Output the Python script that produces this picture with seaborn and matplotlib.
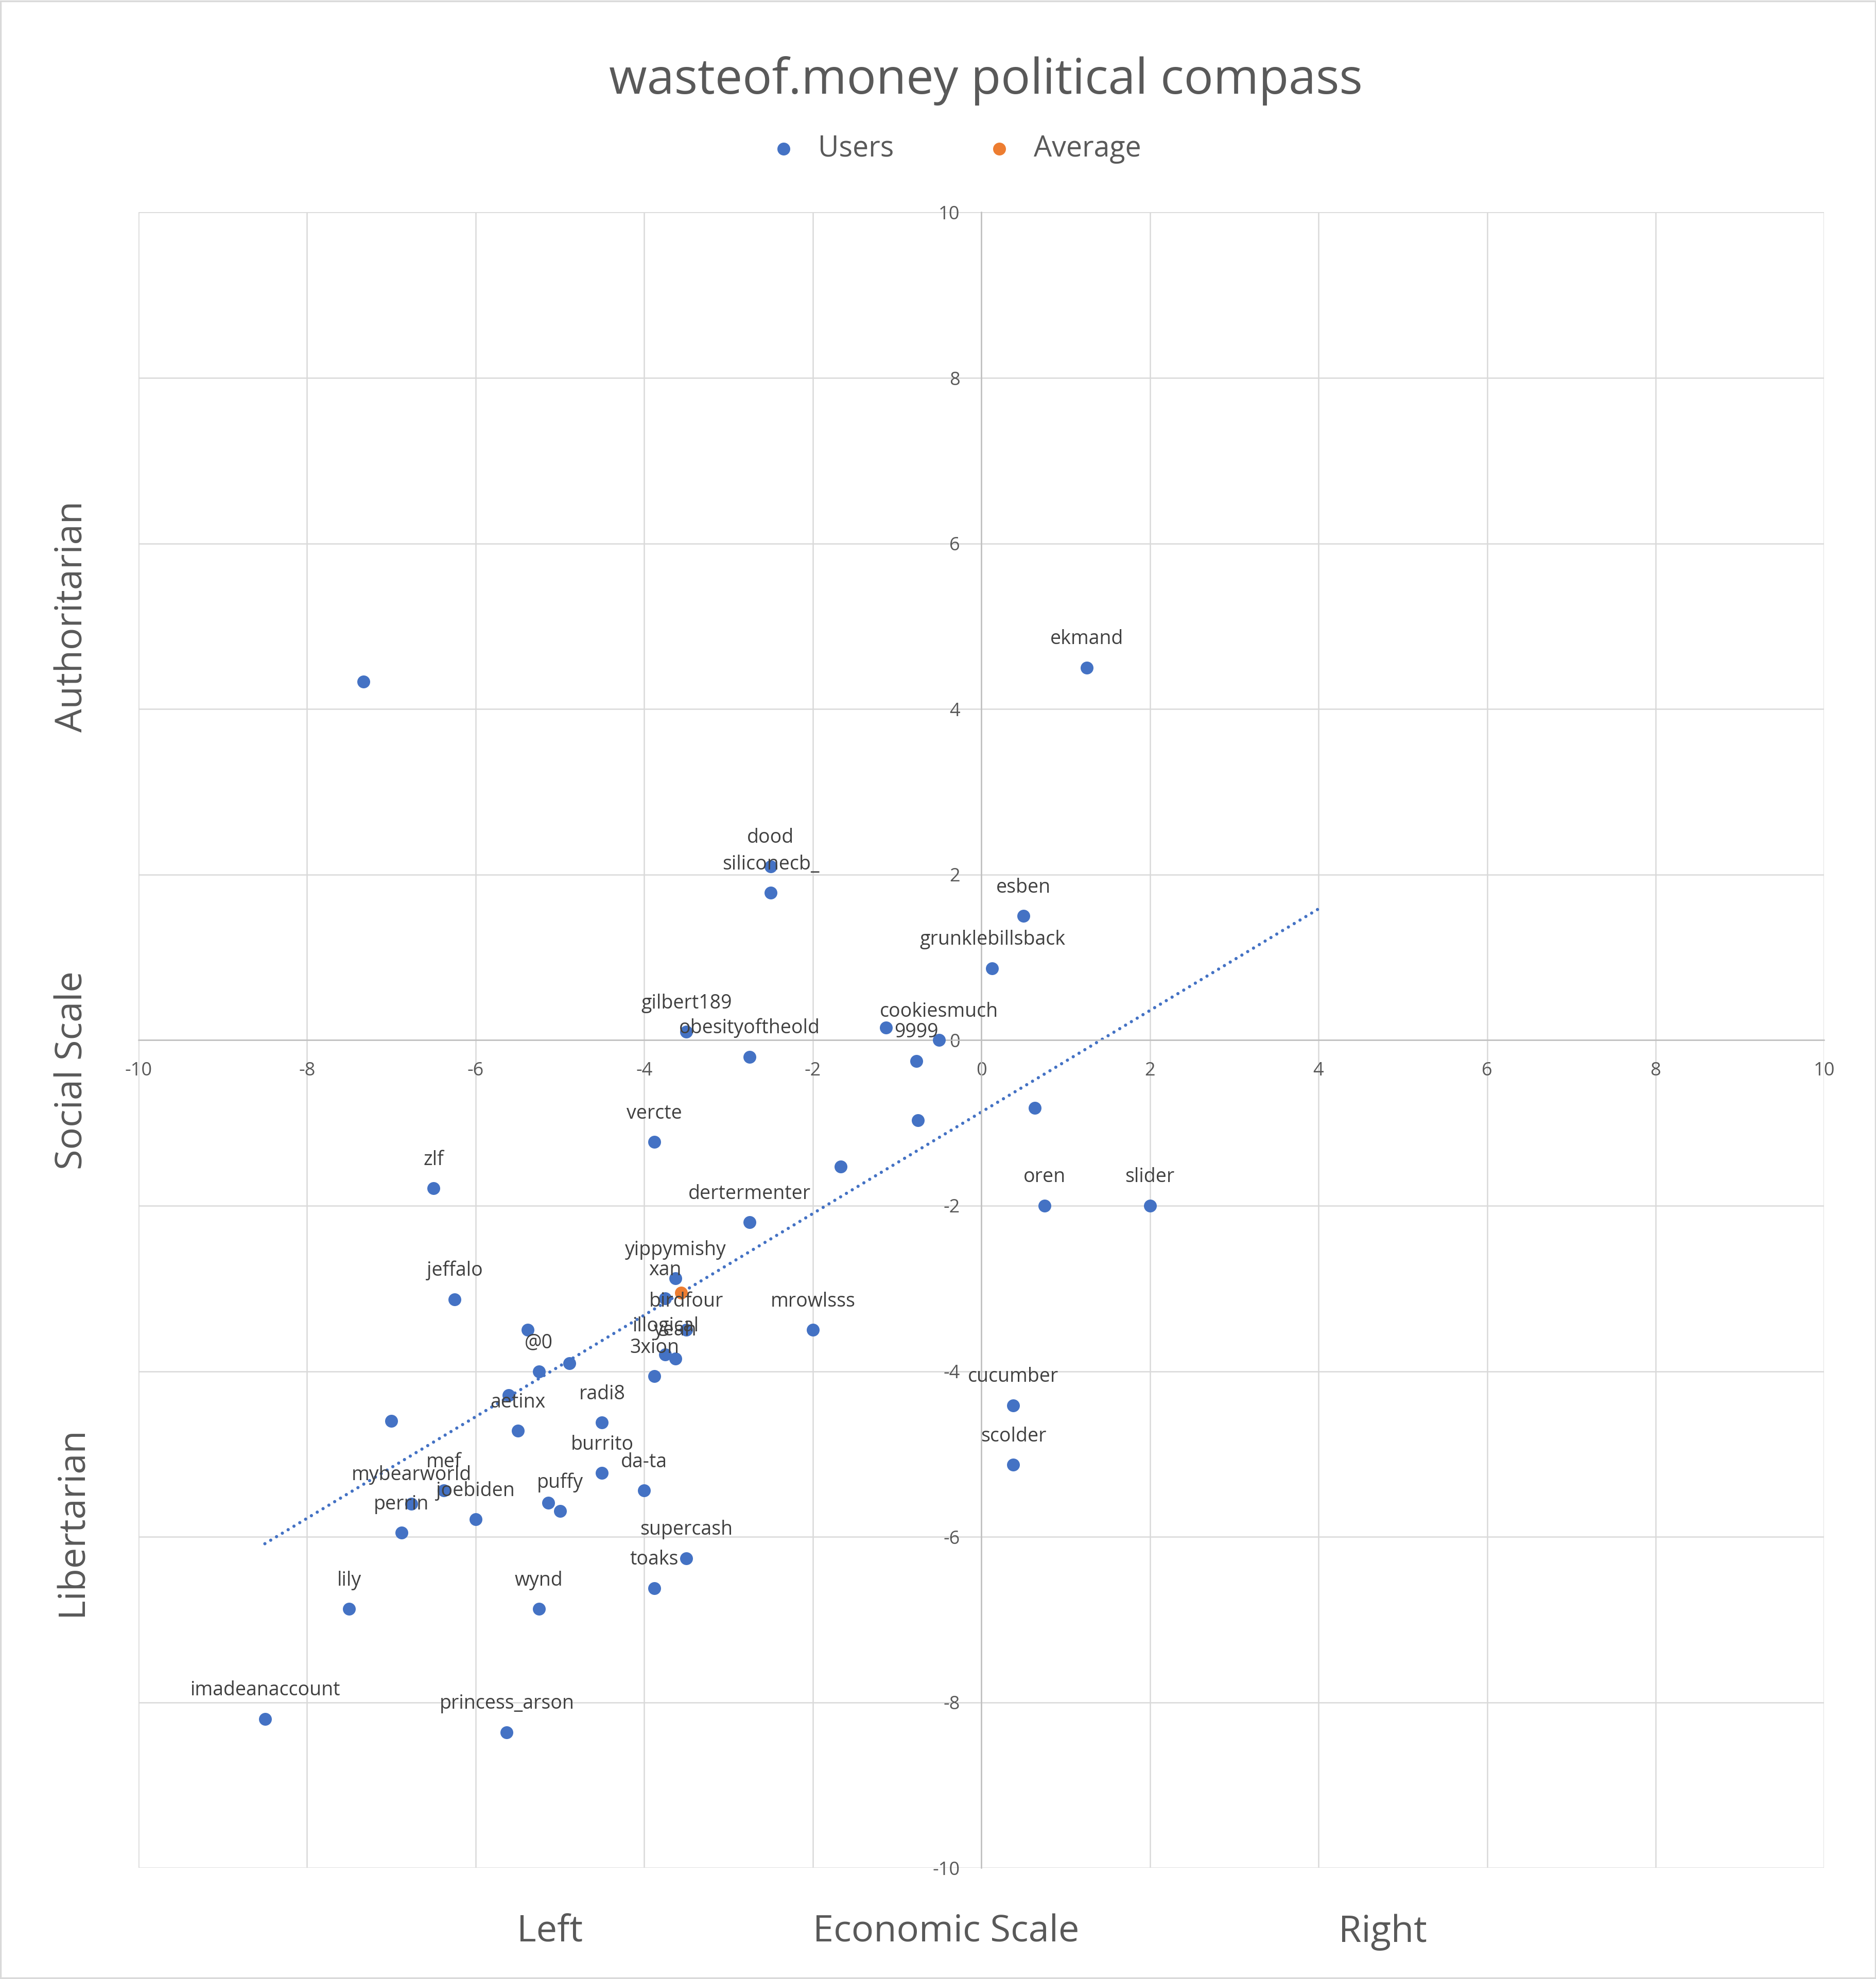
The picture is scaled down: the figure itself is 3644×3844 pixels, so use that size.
import numpy as np
import matplotlib
matplotlib.use("Agg")
import matplotlib.pyplot as plt
import seaborn as sns
from matplotlib.patches import Rectangle

# users read off the compass (economic = x, social = y); "" = no label
names = ["", "ekmand", "dood", "siliconecb_", "esben", "grunklebillsback",
         "gilbert189", "obesityoftheold", "", "cookiesmuch", "9999", "vercte",
         "", "", "", "oren", "slider", "dertermenter", "zlf", "yippymishy",
         "xan", "birdfour", "mrowlsss", "jeffalo", "", "illogical", "yeah",
         "3xion", "@0", "", "", "aetinx", "radi8", "", "burrito", "da-ta",
         "mef", "mybearworld", "joebiden", "perrin", "puffy", "", "supercash",
         "toaks", "lily", "wynd", "cucumber", "scolder", "imadeanaccount",
         "princess_arson"]
econ = [-7.33, 1.25, -2.5, -2.5, 0.5, 0.13,
        -3.5, -2.75, -1.13, -0.5, -0.77, -3.88,
        -0.75, 0.635, -1.67, 0.75, 2.0, -2.75, -6.5, -3.63,
        -3.75, -3.5, -2.0, -6.25, -5.38, -3.75, -3.63,
        -3.88, -5.25, -4.89, -5.61, -5.5, -4.5, -7.0, -4.5, -4.0,
        -6.38, -6.76, -6.0, -6.88, -5.0, -5.14, -3.5,
        -3.88, -7.5, -5.25, 0.38, 0.38, -8.5,
        -5.63]
social = [4.33, 4.5, 2.1, 1.78, 1.5, 0.87,
          0.1, -0.2, 0.15, 0.0, -0.25, -1.23,
          -0.97, -0.82, -1.53, -2.0, -2.0, -2.2, -1.79, -2.88,
          -3.12, -3.5, -3.5, -3.13, -3.5, -3.8, -3.85,
          -4.06, -4.0, -3.9, -4.29, -4.72, -4.62, -4.6, -5.23, -5.44,
          -5.44, -5.6, -5.79, -5.95, -5.69, -5.59, -6.26,
          -6.62, -6.87, -6.87, -4.41, -5.13, -8.2,
          -8.36]
avg_econ = [-3.56]
avg_social = [-3.05]
ticks = list(range(-10, 11, 2))
trend_forward_to = 4.0

blue = "#4472C4"
orange = "#ED7D31"
grey_txt = "#595959"

sns.set_style("white")
plt.rcParams["font.family"] = ["Open Sans", "DejaVu Sans"]
plt.rcParams["axes.unicode_minus"] = False

fig = plt.figure(figsize=(36.44, 38.44), dpi=100)
ax = fig.add_axes([0.0738, 0.0561, 0.8986, 0.8366])

# linear trendline of the users, forecast forward like excel does
slope, icpt = np.polyfit(econ, social, 1)
tx = np.array([min(econ), trend_forward_to])
ax.plot(tx, slope * tx + icpt, color=blue, lw=4.5,
        linestyle=(0, (0.01, 2.1)), dash_capstyle="round", zorder=2)

sns.scatterplot(x=econ, y=social, color=blue, s=324, linewidth=0,
                label="Users", ax=ax, zorder=3)
sns.scatterplot(x=avg_econ, y=avg_social, color=orange, s=324, linewidth=0,
                label="Average", ax=ax, zorder=4)
handles, labels = ax.get_legend_handles_labels()
if ax.get_legend() is not None:
    ax.get_legend().remove()

for n, x, y in zip(names, econ, social):
    if n:
        ax.annotate(n, (x, y), xytext=(0, 40), textcoords="offset points",
                    ha="center", va="center", fontsize=27, color="#404040",
                    zorder=5)

ax.set_xlim(-10, 10)
ax.set_ylim(-10, 10)
ax.set_xticks(ticks)
ax.set_yticks(ticks)
ax.grid(True, color="#D9D9D9", lw=1.8)
ax.set_axisbelow(True)
for side in ["top", "right"]:
    ax.spines[side].set_visible(False)
for side in ["left", "bottom"]:
    ax.spines[side].set_position(("data", 0))
    ax.spines[side].set_color("#BFBFBF")
    ax.spines[side].set_linewidth(1.8)
ax.tick_params(length=0, pad=30, labelsize=26, labelcolor=grey_txt)
ax.set_xlabel("")
ax.set_ylabel("")

# axis captions
for txt, xf in [("Left", 0.244), ("Economic Scale", 0.479), ("Right", 0.738)]:
    ax.text(xf, -0.0446, txt, transform=ax.transAxes, ha="center",
            va="baseline", fontsize=52, color=grey_txt)
for txt, yf in [("Authoritarian", 0.756), ("Social Scale", 0.4818),
                ("Libertarian", 0.2094)]:
    ax.text(-0.0333, yf, txt, transform=ax.transAxes, ha="center",
            va="baseline", rotation=90, rotation_mode="anchor",
            fontsize=52, color=grey_txt)

fig.text(0.5254, 0.9527, "wasteof.money political compass", ha="center",
         va="baseline", fontsize=68.5, color=grey_txt)
fig.legend(handles, labels, loc="center", bbox_to_anchor=(0.5107, 0.9248),
           ncol=2, frameon=False, fontsize=40, handlelength=0.6,
           handletextpad=0.9, columnspacing=3.4, labelcolor=grey_txt)

fig.patches.append(Rectangle((0.0004, 0.0004), 0.9992, 0.9992,
                             transform=fig.transFigure, fill=False,
                             edgecolor="#D9D9D9", lw=2.5))

fig.savefig("out.png", dpi=100)
